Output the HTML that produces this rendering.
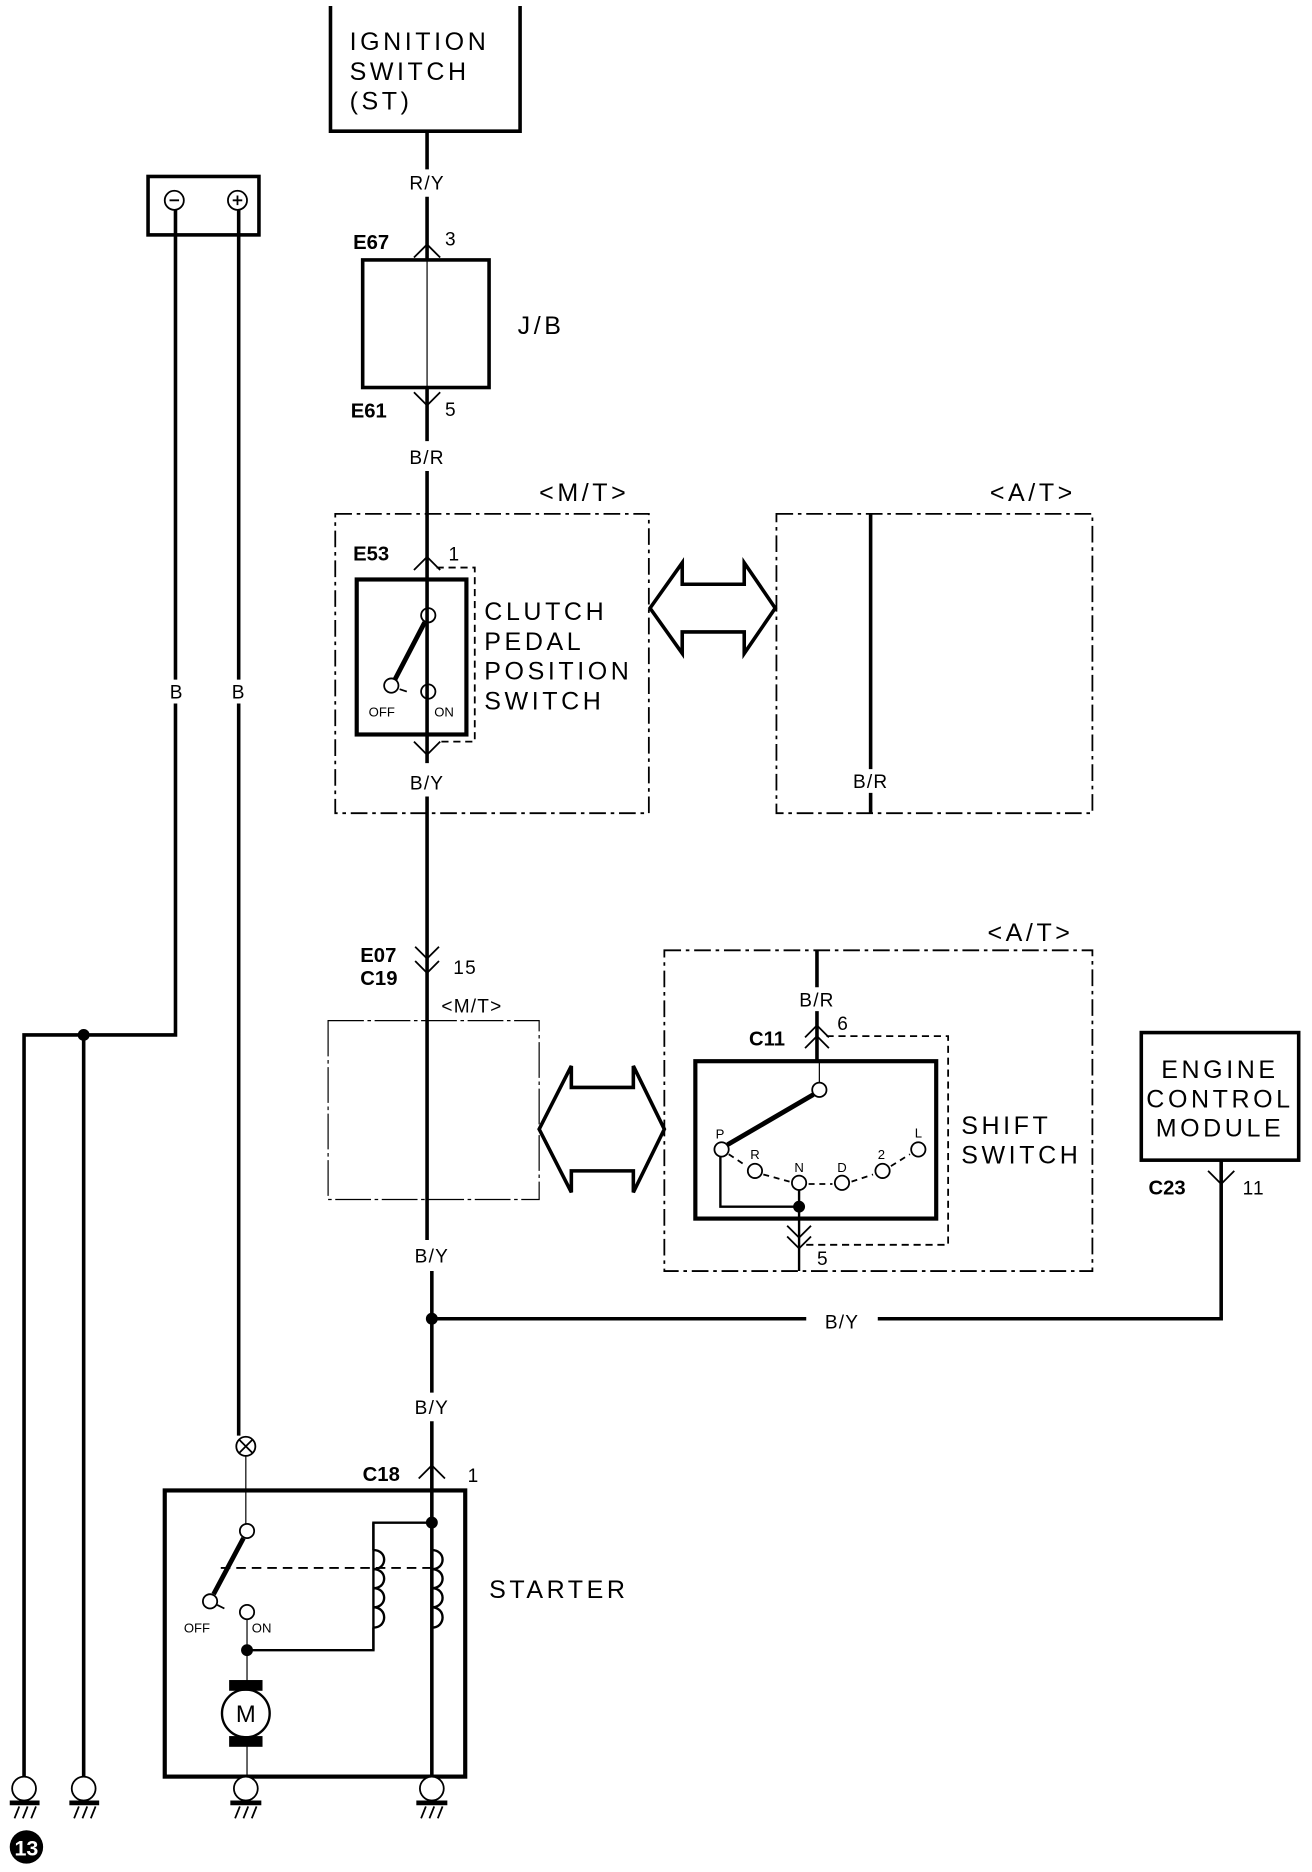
<!DOCTYPE html>
<html><head><meta charset="utf-8"><style>
html,body{margin:0;padding:0;background:#fff}
svg{display:block}
text{font-family:"Liberation Sans",sans-serif;fill:#000}
.t{font-size:21px;letter-spacing:3px}
.s{font-size:16px;letter-spacing:1px}
.b{font-size:17px;font-weight:bold}
.x{font-size:11px}
</style></head><body>
<svg width="1312" height="1872" viewBox="0 0 1100 1570" xmlns="http://www.w3.org/2000/svg">
<g fill="none" stroke="#000">
<path d="M277 5V110H436V5" stroke-width="3"/>
<path d="M358 110V142M358 165V218M358 325V370M358 395V640M358 668V1040M362 1066V1168M362 1192V1490" stroke-width="3"/>
<path d="M358 218V325" stroke-width="1"/>
<rect x="124" y="148" width="93" height="49" stroke-width="3"/>
<circle cx="146" cy="168" r="8" stroke-width="1.5"/><circle cx="199" cy="168" r="8" stroke-width="1.5"/>
<path d="M142 168h8M195 168h8M199 164v8" stroke-width="1.5"/>
<path d="M147 176V570M147 590V868H20V1490M70 868V1490M200 176V570M200 590V1204" stroke-width="3"/>
<path d="M347 216l11-11 11 11M347 329l11 11 11-11" stroke-width="1.5"/>
<rect x="304" y="218" width="106" height="107" stroke-width="3"/>
<rect x="281" y="431" width="263" height="251" stroke-width="1.5" stroke-dasharray="14 4 3 4"/>
<rect x="651" y="431" width="265" height="251" stroke-width="1.5" stroke-dasharray="14 4 3 4"/>
<path d="M730 431V645M730 665V682" stroke-width="3"/>
<path d="M347 478l11-11 11 11M347 622l11 11 11-11" stroke-width="1.5"/>
<path d="M366 476H398V622H366" stroke-width="1.5" stroke-dasharray="6 4"/>
<rect x="299" y="486" width="92" height="130" stroke-width="3.5"/>
<circle cx="359" cy="516" r="6" stroke-width="1.5"/>
<path d="M356 522L331 570" stroke-width="4"/>
<circle cx="328" cy="575" r="6" stroke-width="1.5"/><circle cx="359" cy="580" r="6" stroke-width="1.5"/>
<path d="M335 578l6 2" stroke-width="1.5"/>
<path d="M545 510L572 472V490H624V472L650 510L624 548V530H572V548Z" stroke-width="3"/>
<path d="M452 947L479 894V912H531V894L557 947L531 1000V982H479V1000Z" stroke-width="3"/>
<path d="M348 794l10 10 10-10M348 806l10 10 10-10" stroke-width="1.5"/>
<rect x="275" y="856" width="177" height="150" stroke-width="1" stroke-dasharray="30 3 3 3"/>
<rect x="557" y="797" width="359" height="269" stroke-width="1.5" stroke-dasharray="14 4 3 4"/>
<path d="M685 797V828M685 848V890" stroke-width="3"/>
<path d="M675 870l10-10 10 10M675 879l10-10 10 10" stroke-width="1.5"/>
<path d="M693 869H795V1044H676" stroke-width="1.5" stroke-dasharray="6 4"/>
<rect x="583" y="890" width="202" height="132" stroke-width="3.5"/>
<path d="M687 890V908" stroke-width="1"/>
<circle cx="687" cy="914" r="6" stroke-width="1.5"/>
<path d="M682 918L610 960" stroke-width="4"/>
<circle cx="605" cy="964" r="6" stroke-width="1.5"/>
<circle cx="633" cy="982" r="6" stroke-width="1.5"/>
<circle cx="670" cy="992" r="6" stroke-width="1.5"/>
<circle cx="706" cy="992" r="6" stroke-width="1.5"/>
<circle cx="740" cy="982" r="6" stroke-width="1.5"/>
<circle cx="770" cy="964" r="6" stroke-width="1.5"/>
<path d="M611 968L626 978M640 985L662 991M678 993H698M714 991L732 985M747 978L763 968" stroke-width="1.5" stroke-dasharray="5 4"/>
<path d="M604 970V1012H670M670 998V1066" stroke-width="2"/>
<path d="M660 1028l10 10 10-10M660 1037l10 10 10-10" stroke-width="1.5"/>
<rect x="957" y="866" width="132" height="107" stroke-width="3"/>
<path d="M1024 973V1106H736M676 1106H362" stroke-width="3"/>
<path d="M1013 982l11 11 11-11" stroke-width="1.5"/>
<path d="M351 1240l11-11 11 11" stroke-width="1.5"/>
<rect x="138" y="1250" width="252" height="240" stroke-width="3.5"/>
<circle cx="206" cy="1213" r="8" stroke-width="1.5"/>
<path d="M200 1207l12 12M212 1207l-12 12" stroke-width="1.5"/>
<path d="M206 1221V1278" stroke-width="1"/>
<circle cx="207" cy="1284" r="6" stroke-width="1.5"/>
<path d="M204 1290L179 1337" stroke-width="4"/>
<circle cx="176" cy="1343" r="6" stroke-width="1.5"/><circle cx="207" cy="1352" r="6" stroke-width="1.5"/>
<path d="M182 1346l6 3" stroke-width="1.5"/>
<path d="M185 1315H362" stroke-width="1.5" stroke-dasharray="8 5"/>
<path d="M207 1358V1490" stroke-width="1"/>
<path d="M207 1384H313V1277H362" stroke-width="2"/>
<path d="M313 1277V1300 M313 1365V1384" stroke-width="2"/>
<path d="M313 1300c12 0 12 16 0 16c12 0 12 16 0 16c12 0 12 16 0 16c12 0 12 17 0 17" stroke-width="2"/>
<path d="M362 1300c12 0 12 16 0 16c12 0 12 16 0 16c12 0 12 16 0 16c12 0 12 17 0 17" stroke-width="2"/>
<circle cx="206" cy="1437" r="20" stroke-width="2" fill="#fff"/>
<g stroke-width="1.5">
<circle cx="20" cy="1500" r="10" fill="#fff"/><circle cx="70" cy="1500" r="10" fill="#fff"/>
<circle cx="206" cy="1500" r="10" fill="#fff"/><circle cx="362" cy="1500" r="10" fill="#fff"/>
</g>
<path d="M8 1512H33M58 1512H83M193 1512H219M349 1512H375" stroke-width="4"/>
<path d="M12 1525l4-10M19 1525l4-10M26 1525l4-10M62 1525l4-10M69 1525l4-10M76 1525l4-10M197 1525l4-10M204 1525l4-10M211 1525l4-10M353 1525l4-10M360 1525l4-10M367 1525l4-10" stroke-width="1.5"/>
</g>
<g fill="#000">
<circle cx="70" cy="868" r="5"/><circle cx="362" cy="1106" r="5"/><circle cx="670" cy="1012" r="5"/>
<circle cx="362" cy="1277" r="5"/><circle cx="207" cy="1384" r="5"/>
<rect x="192" y="1409" width="28" height="9"/><rect x="192" y="1456" width="28" height="9"/>
<circle cx="22" cy="1549" r="14"/>
</g>
<text x="22" y="1556" font-size="18" font-weight="bold" text-anchor="middle" style="fill:#fff">13</text>
<text class="t" x="293" y="42">IGNITION</text>
<text class="t" x="293" y="67">SWITCH</text>
<text class="t" x="293" y="92">(ST)</text>
<text class="s" x="358" y="159" text-anchor="middle">R/Y</text>
<text class="b" x="296" y="209">E67</text><text class="s" x="373" y="206">3</text>
<text class="t" x="434" y="280">J/B</text>
<text class="b" x="294" y="350">E61</text><text class="s" x="373" y="349">5</text>
<text class="s" x="358" y="389" text-anchor="middle">B/R</text>
<text class="t" x="452" y="420">&lt;M/T&gt;</text>
<text class="t" x="830" y="420">&lt;A/T&gt;</text>
<text class="b" x="296" y="470">E53</text><text class="s" x="376" y="470">1</text>
<text class="t" x="406" y="520">CLUTCH</text>
<text class="t" x="406" y="545">PEDAL</text>
<text class="t" x="406" y="570">POSITION</text>
<text class="t" x="406" y="595">SWITCH</text>
<text class="x" x="309" y="601">OFF</text><text class="x" x="364" y="601">ON</text>
<text class="s" x="358" y="662" text-anchor="middle">B/Y</text>
<text class="s" x="730" y="661" text-anchor="middle">B/R</text>
<text class="s" x="148" y="586" text-anchor="middle">B</text>
<text class="s" x="200" y="586" text-anchor="middle">B</text>
<text class="t" x="828" y="789">&lt;A/T&gt;</text>
<text class="b" x="302" y="807">E07</text><text class="b" x="302" y="826">C19</text>
<text class="s" x="380" y="817">15</text>
<text class="s" x="370" y="849" letter-spacing="2">&lt;M/T&gt;</text>
<text class="s" x="685" y="844" text-anchor="middle">B/R</text>
<text class="b" x="628" y="877">C11</text><text class="s" x="702" y="864">6</text>
<text class="x" x="600" y="955">P</text><text class="x" x="629" y="972">R</text>
<text class="x" x="666" y="983">N</text><text class="x" x="702" y="983">D</text>
<text class="x" x="736" y="972">2</text><text class="x" x="767" y="954">L</text>
<text class="t" x="806" y="951">SHIFT</text>
<text class="t" x="806" y="976">SWITCH</text>
<text class="s" x="685" y="1061">5</text>
<text class="t" x="1023" y="904" text-anchor="middle" letter-spacing="2">ENGINE</text>
<text class="t" x="1023" y="929" text-anchor="middle" letter-spacing="1">CONTROL</text>
<text class="t" x="1023" y="953" text-anchor="middle" letter-spacing="1">MODULE</text>
<text class="b" x="963" y="1002">C23</text><text class="s" x="1042" y="1002">11</text>
<text class="s" x="362" y="1059" text-anchor="middle">B/Y</text>
<text class="s" x="706" y="1114" text-anchor="middle">B/Y</text>
<text class="s" x="362" y="1186" text-anchor="middle">B/Y</text>
<text class="b" x="304" y="1242">C18</text><text class="s" x="392" y="1243">1</text>
<text class="t" x="410" y="1340">STARTER</text>
<text class="x" x="154" y="1369">OFF</text><text class="x" x="211" y="1369">ON</text>
<text x="206" y="1444" font-size="20" text-anchor="middle">M</text>
</svg>
</body></html>
